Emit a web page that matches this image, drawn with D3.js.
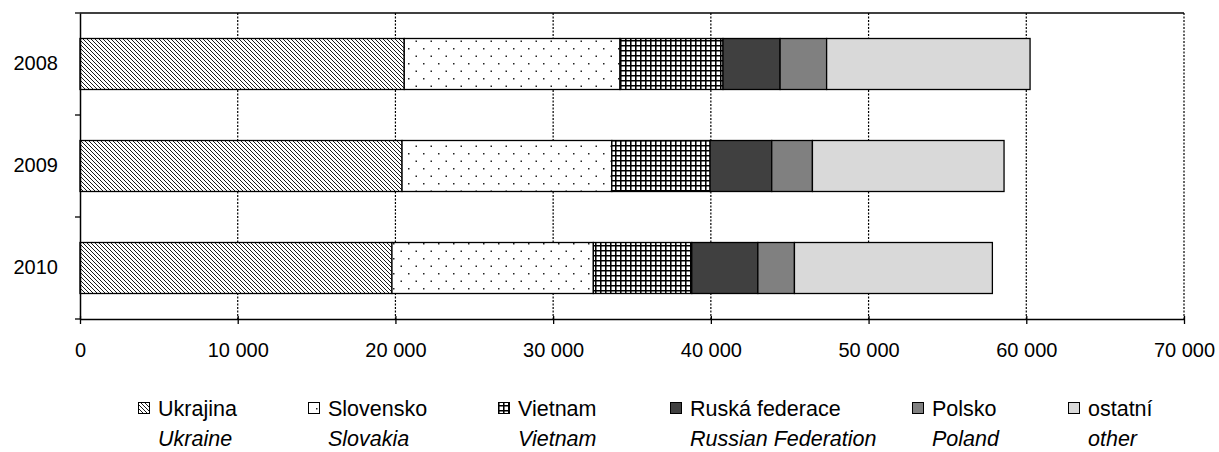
<!DOCTYPE html>
<html>
<head>
<meta charset="utf-8">
<script src="https://cdn.jsdelivr.net/npm/d3@7"></script>
<style>
  body { margin: 0; background: #fff; }
  svg { display: block; font-family: "Liberation Sans", Arial, sans-serif; }
</style>
</head>
<body>
<div id="chart"></div>
<script>
// Data
const years = ["2008", "2009", "2010"];
const ukrajina = [20560, 20420, 19780];
const slovensko = [13680, 13300, 12770];
const vietnam = [6530, 6230, 6240];
const ruskaFederace = [3620, 3910, 4190];
const polsko = [2950, 2580, 2320];
const ostatni = [12900, 12150, 12550];

const seriesCz = ["Ukrajina", "Slovensko", "Vietnam", "Ruská federace", "Polsko", "ostatní"];
const seriesEn = ["Ukraine", "Slovakia", "Vietnam", "Russian Federation", "Poland", "other"];
const xTicks = [0, 10000, 20000, 30000, 40000, 50000, 60000, 70000];

const seriesValues = [ukrajina, slovensko, vietnam, ruskaFederace, polsko, ostatni];
const keys = seriesCz;
const rows = years.map((y, i) => {
  const r = { year: y };
  keys.forEach((k, j) => r[k] = seriesValues[j][i]);
  return r;
});

const W = 1219, H = 452;
const plot = { left: 80, right: 1184, top: 13, bottom: 319 };

const svg = d3.select("#chart").append("svg")
  .attr("width", W)
  .attr("height", H);

// Fill patterns
const defs = svg.append("defs");

const diag = defs.append("pattern")
  .attr("id", "p0").attr("patternUnits", "userSpaceOnUse")
  .attr("width", 4).attr("height", 4);
diag.append("rect").attr("width", 4).attr("height", 4).attr("fill", "#fff");
diag.append("path")
  .attr("d", "M-1,-1L5,5M-1,3L1,5M3,-1L5,1")
  .attr("stroke", "#000").attr("stroke-width", 0.9);

const dots = defs.append("pattern")
  .attr("id", "p1").attr("patternUnits", "userSpaceOnUse")
  .attr("width", 15).attr("height", 15);
dots.append("rect").attr("width", 15).attr("height", 15).attr("fill", "#fff");
dots.append("rect").attr("x", 3).attr("y", 3).attr("width", 1.5).attr("height", 1.5).attr("fill", "#222");
dots.append("rect").attr("x", 10.5).attr("y", 10.5).attr("width", 1.5).attr("height", 1.5).attr("fill", "#222");

const grid = defs.append("pattern")
  .attr("id", "p2").attr("patternUnits", "userSpaceOnUse")
  .attr("width", 5).attr("height", 5);
grid.append("rect").attr("width", 5).attr("height", 5).attr("fill", "#fff");
grid.append("path")
  .attr("d", "M0.75,0V5M0,0.75H5")
  .attr("stroke", "#000").attr("stroke-width", 1.6);

const fills = ["url(#p0)", "url(#p1)", "url(#p2)", "#404040", "#808080", "#d9d9d9"];
const color = d3.scaleOrdinal().domain(keys).range(fills);

// Scales
const x = d3.scaleLinear()
  .domain([0, 70000])
  .range([plot.left, plot.right]);

const y = d3.scaleBand()
  .domain(years)
  .range([plot.top, plot.bottom])
  .paddingInner(0.5)
  .paddingOuter(0.25);

// Gridlines
svg.append("g")
  .selectAll("line")
  .data(xTicks.slice(1))
  .enter()
  .append("line")
  .attr("x1", d => x(d)).attr("x2", d => x(d))
  .attr("y1", plot.top).attr("y2", plot.bottom)
  .attr("stroke", "#000")
  .attr("stroke-width", 1.2)
  .attr("stroke-dasharray", "2,1.5");

// Top border
svg.append("line")
  .attr("x1", plot.left).attr("x2", plot.right)
  .attr("y1", plot.top).attr("y2", plot.top)
  .attr("stroke", "#000").attr("stroke-width", 1.3);

// Stacked bars
const stacked = d3.stack().keys(keys)(rows);

svg.append("g")
  .selectAll("g")
  .data(stacked)
  .enter()
  .append("g")
  .attr("fill", d => color(d.key))
  .selectAll("rect")
  .data(d => d)
  .enter()
  .append("rect")
  .attr("x", d => x(d[0]))
  .attr("y", d => y(d.data.year))
  .attr("width", d => x(d[1]) - x(d[0]))
  .attr("height", y.bandwidth())
  .attr("stroke", "#000")
  .attr("stroke-width", 1.3);

// X axis
const xAxis = svg.append("g")
  .attr("transform", `translate(0,${plot.bottom})`)
  .call(d3.axisBottom(x)
    .tickValues(xTicks)
    .tickSize(5)
    .tickSizeOuter(0)
    .tickPadding(19)
    .tickFormat(d => d3.format(",")(d).replace(/,/g, " ")));
xAxis.select(".domain").attr("stroke-width", 1.5);
xAxis.selectAll(".tick line").attr("stroke-width", 1.3).attr("y1", -3);
xAxis.selectAll("text")
  .style("font-size", "20px")
  .style("fill", "#000");

// Y axis: ticks at the category boundaries
const yAxis = svg.append("g")
  .attr("transform", `translate(${plot.left},0)`)
  .call(d3.axisLeft(y).tickSize(0).tickPadding(22));
yAxis.select(".domain").attr("stroke-width", 1.5);
yAxis.selectAll("text")
  .style("font-size", "20px")
  .style("fill", "#000");

const step = y.step();
const bounds = d3.range(years.length + 1).map(i => plot.top + i * step);
svg.append("g")
  .selectAll("line")
  .data(bounds)
  .enter()
  .append("line")
  .attr("x1", plot.left - 5).attr("x2", plot.left)
  .attr("y1", d => d).attr("y2", d => d)
  .attr("stroke", "#000").attr("stroke-width", 1.3);

// Legend: Czech names with English translations left-aligned below
const legendTextX = [158, 328, 518, 690, 932, 1088];
const legend = svg.append("g");

const item = legend.selectAll("g")
  .data(keys)
  .enter()
  .append("g")
  .attr("transform", (d, i) => `translate(${legendTextX[i]},0)`);

item.append("rect")
  .attr("x", -19.5).attr("y", 402.5)
  .attr("width", 11).attr("height", 11)
  .attr("fill", d => color(d))
  .attr("stroke", "#000").attr("stroke-width", 1);

item.append("text")
  .attr("x", 0).attr("y", 416)
  .style("font-size", "21.5px")
  .text(d => d);

item.append("text")
  .attr("x", 0).attr("y", 446)
  .style("font-size", "21.5px")
  .style("font-style", "italic")
  .text((d, i) => seriesEn[i]);
</script>
</body>
</html>
